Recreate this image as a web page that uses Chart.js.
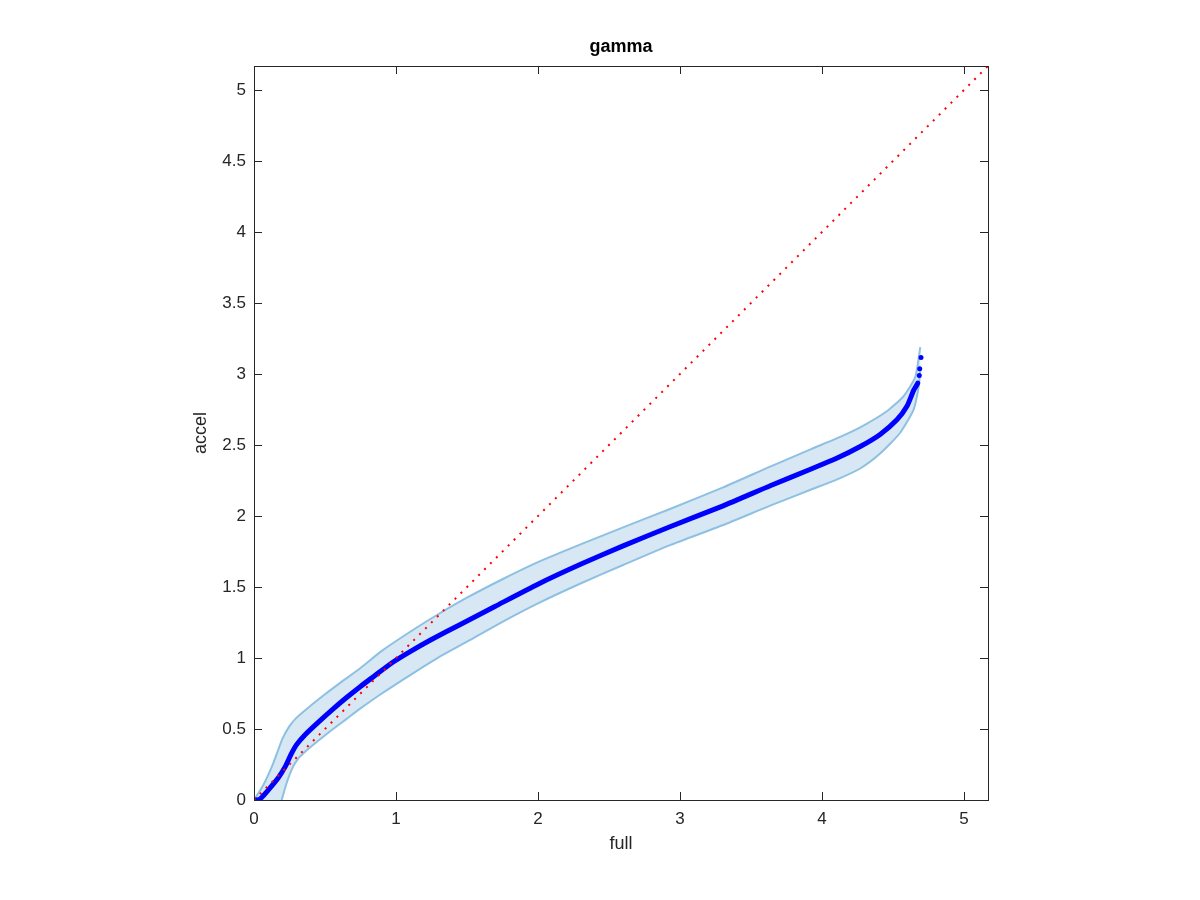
<!DOCTYPE html>
<html>
<head>
<meta charset="utf-8">
<title>gamma</title>
<script src="https://cdn.jsdelivr.net/npm/chart.js@4.4.1/dist/chart.umd.min.js"></script>
<style>
  html, body { margin: 0; padding: 0; background: #ffffff; }
  #wrap { width: 1200px; height: 900px; }
</style>
</head>
<body>
<div id="wrap"><canvas id="gammaChart" width="1200" height="900"></canvas></div>
<script>
// ----- data -----
// blue centre curve (full -> accel)
const centerX = [0, 0.04, 0.10, 0.17, 0.22, 0.26, 0.30, 0.36, 0.45, 0.55, 0.65, 0.75, 0.85, 0.97, 1.1, 1.25, 1.45, 1.7, 2.0, 2.3, 2.6, 2.93, 3.3, 3.64, 3.92, 4.1, 4.27, 4.41, 4.53, 4.60, 4.646, 4.675, 4.686, 4.689, 4.698];
const centerY = [0, 0.005, 0.07, 0.155, 0.235, 0.32, 0.39, 0.46, 0.545, 0.635, 0.72, 0.80, 0.875, 0.965, 1.045, 1.13, 1.235, 1.365, 1.52, 1.66, 1.79, 1.925, 2.07, 2.215, 2.33, 2.405, 2.49, 2.575, 2.68, 2.775, 2.885, 2.936, 2.99, 3.037, 3.117];

// upper edge of the light blue band
const upperX = [0, 0.066, 0.136, 0.2, 0.25, 0.3, 0.4, 0.5, 0.6, 0.75, 0.9, 1.1, 1.3, 1.5, 1.75, 2.0, 2.3, 2.6, 2.93, 3.3, 3.64, 3.92, 4.1, 4.27, 4.46, 4.576, 4.658, 4.693];
const upperY = [0, 0.106, 0.26, 0.43, 0.52, 0.58, 0.665, 0.745, 0.82, 0.93, 1.05, 1.185, 1.31, 1.425, 1.555, 1.675, 1.8, 1.92, 2.05, 2.2, 2.35, 2.47, 2.545, 2.625, 2.74, 2.845, 2.98, 3.19];

// lower edge of the band
const lowerX = [0.195, 0.23, 0.27, 0.31, 0.36, 0.45, 0.55, 0.65, 0.75, 0.9, 1.1, 1.3, 1.5, 1.75, 2.0, 2.3, 2.6, 2.93, 3.3, 3.64, 3.92, 4.1, 4.27, 4.41, 4.55, 4.646, 4.682, 4.693];
const lowerY = [0, 0.12, 0.225, 0.29, 0.34, 0.415, 0.495, 0.57, 0.645, 0.75, 0.88, 1.005, 1.115, 1.255, 1.385, 1.525, 1.655, 1.795, 1.935, 2.075, 2.185, 2.255, 2.335, 2.44, 2.585, 2.75, 2.912, 3.03];

// red dotted y = x reference
const diagX = [0, 5.17];
const diagY = [0, 5.17];

// axes
const axisMax = 5.17;
const xTicks = [0, 1, 2, 3, 4, 5];
const xTickLabels = ['0', '1', '2', '3', '4', '5'];
const yTicks = [0, 0.5, 1, 1.5, 2, 2.5, 3, 3.5, 4, 4.5, 5];
const yTickLabels = ['0', '0.5', '1', '1.5', '2', '2.5', '3', '3.5', '4', '4.5', '5'];

// ----- helpers -----
const toPoints = (xs, ys) => xs.map((x, i) => ({ x: x, y: ys[i] }));

// band polygon = upper edge, then lower edge walked backwards
const bandPoints = toPoints(upperX, upperY).concat(toPoints(lowerX, lowerY).reverse());

const FONT = 'Helvetica, Arial, "Liberation Sans", sans-serif';
const INK = '#262626';
const nCenter = centerX.length;

// matlab style box with ticks pointing inwards on all 4 sides
const boxPlugin = {
    id: 'matlabBox',
    afterDatasetsDraw(chart) {
        const { ctx, chartArea: a, scales } = chart;
        const len = 8;
        ctx.save();
        ctx.strokeStyle = INK;
        ctx.lineWidth = 1;
        ctx.beginPath();
        scales.x.ticks.forEach(t => {
            const px = Math.round(scales.x.getPixelForValue(t.value)) + 0.5;
            ctx.moveTo(px, a.bottom); ctx.lineTo(px, a.bottom - len);
            ctx.moveTo(px, a.top); ctx.lineTo(px, a.top + len);
        });
        scales.y.ticks.forEach(t => {
            const py = Math.round(scales.y.getPixelForValue(t.value)) + 0.5;
            ctx.moveTo(a.left, py); ctx.lineTo(a.left + len, py);
            ctx.moveTo(a.right, py); ctx.lineTo(a.right - len, py);
        });
        ctx.stroke();
        ctx.strokeRect(Math.round(a.left) + 0.5, Math.round(a.top) + 0.5,
                       Math.round(a.right - a.left), Math.round(a.bottom - a.top));
        ctx.restore();
    }
};

const ctx = document.getElementById('gammaChart').getContext('2d');
new Chart(ctx, {
    type: 'scatter',
    data: {
        datasets: [
            {   // red dotted diagonal (index 0 -> drawn on top)
                data: toPoints(diagX, diagY),
                showLine: true,
                borderColor: '#ff0000',
                borderWidth: 2,
                borderDash: [2, 6.35],
                pointRadius: 0
            },
            {   // thick blue curve, the last few samples show as loose dots
                data: toPoints(centerX, centerY),
                showLine: true,
                borderColor: '#0000ff',
                borderWidth: 5,
                borderCapStyle: 'round',
                borderJoinStyle: 'round',
                tension: 0.2,
                pointRadius: c => (c.dataIndex >= nCenter - 3 ? 2.5 : 0),
                pointBackgroundColor: '#0000ff',
                pointBorderWidth: 0,
                segment: {
                    borderColor: c => (c.p0DataIndex >= nCenter - 4 ? 'rgba(0,0,0,0)' : undefined)
                }
            },
            {   // upper band edge
                data: toPoints(upperX, upperY),
                showLine: true,
                borderColor: '#8dc0e2',
                borderWidth: 2,
                tension: 0.2,
                pointRadius: 0
            },
            {   // lower band edge
                data: toPoints(lowerX, lowerY),
                showLine: true,
                borderColor: '#8dc0e2',
                borderWidth: 2,
                tension: 0.2,
                pointRadius: 0
            },
            {   // band fill
                data: bandPoints,
                showLine: true,
                borderWidth: 0,
                borderColor: 'rgba(0,0,0,0)',
                backgroundColor: '#d7e8f4',
                fill: 'shape',
                tension: 0.2,
                pointRadius: 0
            }
        ]
    },
    plugins: [boxPlugin],
    options: {
        responsive: false,
        animation: false,
        events: [],
        layout: { padding: { left: 190, right: 212, top: 36, bottom: 45 } },
        plugins: {
            legend: { display: false },
            tooltip: { enabled: false },
            title: {
                display: true,
                text: 'gamma',
                fullSize: false,
                color: '#000000',
                font: { family: FONT, size: 18, weight: 'bold', lineHeight: 1.2 },
                padding: { top: 0, bottom: 8.4 }
            }
        },
        scales: {
            x: {
                type: 'linear',
                position: 'bottom',
                min: 0,
                max: axisMax,
                grid: { display: false, drawTicks: false },
                border: { display: false },
                afterBuildTicks: s => { s.ticks = xTicks.map(v => ({ value: v })); },
                afterFit: s => { s.height = 55; },
                ticks: {
                    color: INK,
                    padding: 9,
                    maxRotation: 0,
                    font: { family: FONT, size: 17 },
                    callback: (v, i) => xTickLabels[i]
                },
                title: {
                    display: true,
                    text: 'full',
                    color: INK,
                    padding: 0,
                    font: { family: FONT, size: 18 }
                }
            },
            y: {
                type: 'linear',
                position: 'left',
                min: 0,
                max: axisMax,
                grid: { display: false, drawTicks: false },
                border: { display: false },
                afterBuildTicks: s => { s.ticks = yTicks.map(v => ({ value: v })); },
                afterFit: s => { s.width = 64; },
                ticks: {
                    color: INK,
                    padding: 8,
                    font: { family: FONT, size: 17 },
                    callback: (v, i) => yTickLabels[i]
                },
                title: {
                    display: true,
                    text: 'accel',
                    color: INK,
                    padding: 0,
                    font: { family: FONT, size: 18 }
                }
            }
        }
    }
});
</script>
</body>
</html>
